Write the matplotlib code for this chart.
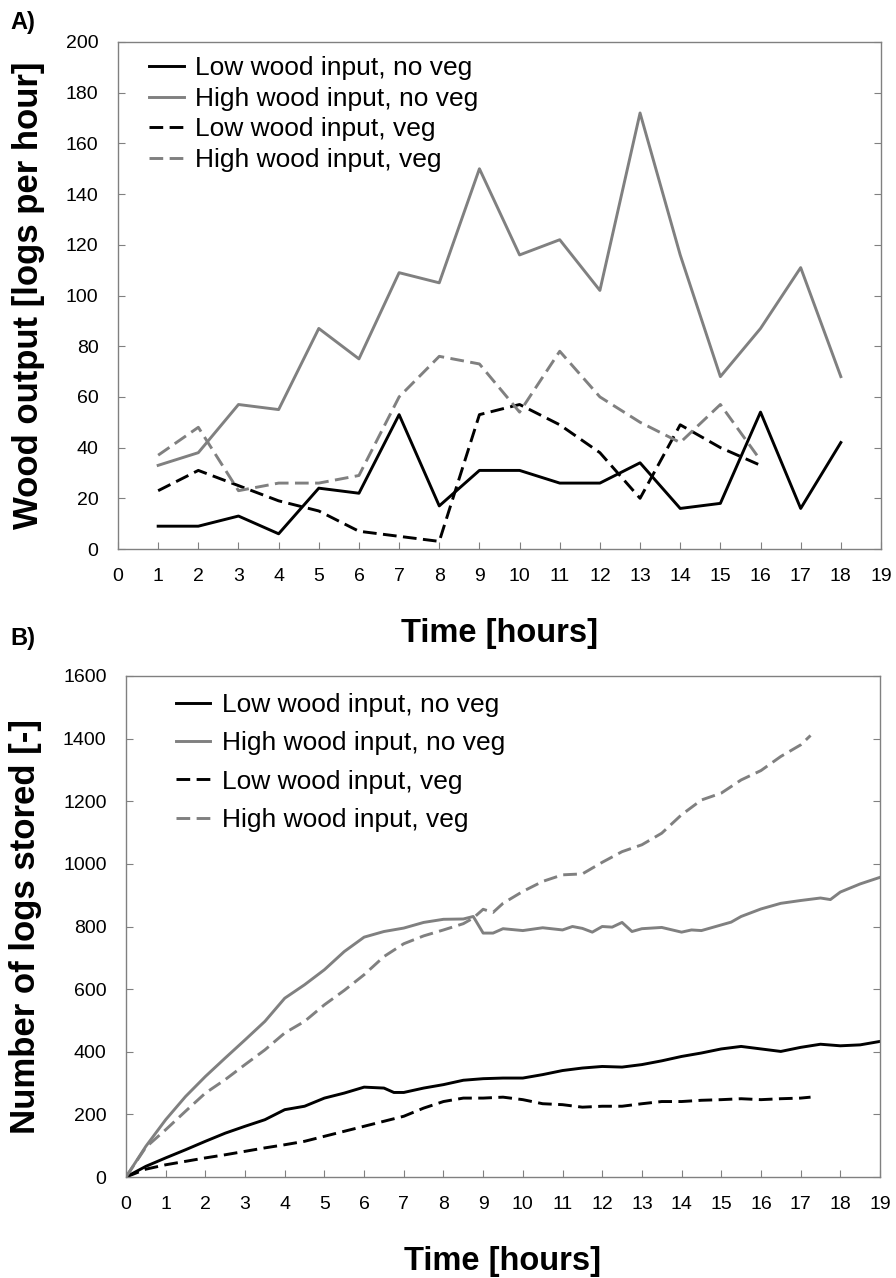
import matplotlib
matplotlib.use("Agg")
import matplotlib.pyplot as plt

plt.rcParams["font.family"] = ["Liberation Sans", "DejaVu Sans"]

# ---- panel A: wood output per hour ----
hours = [1, 2, 3, 4, 5, 6, 7, 8, 9, 10, 11, 12, 13, 14, 15, 16, 17, 18]
out_low_noveg = [9, 9, 13, 6, 24, 22, 53, 17, 31, 31, 26, 26, 34, 16, 18, 54, 16, 42]
out_high_noveg = [33, 38, 57, 55, 87, 75, 109, 105, 150, 116, 122, 102, 172, 116, 68, 87, 111, 68]
hours_veg = [1, 2, 3, 4, 5, 6, 7, 8, 9, 10, 11, 12, 13, 14, 15, 16]
out_low_veg = [23, 31, 25, 19, 15, 7, 5, 3, 53, 57, 49, 38, 20, 49, 40, 33]
out_high_veg = [37, 48, 23, 26, 26, 29, 60, 76, 73, 54, 78, 60, 50, 42, 57, 35]

# ---- panel B: logs stored ----
t_low_noveg = [0, 0.5, 1, 1.5, 2, 2.5, 3, 3.5, 4, 4.5, 5, 5.5, 6, 6.5, 6.75, 7, 7.5, 8,
               8.5, 9, 9.5, 10, 10.5, 11, 11.5, 12, 12.5, 13, 13.5, 14, 14.5, 15, 15.5,
               16, 16.5, 17, 17.5, 18, 18.5, 19]
st_low_noveg = [0, 34, 61, 87, 114, 140, 162, 183, 215, 226, 252, 268, 287, 284, 270, 270,
                284, 295, 309, 314, 316, 316, 327, 340, 348, 353, 351, 359, 371, 385, 396,
                409, 417, 409, 401, 414, 424, 419, 422, 433]
t_high_noveg = [0, 0.5, 1, 1.5, 2, 2.5, 3, 3.5, 4, 4.5, 5, 5.5, 6, 6.5, 7, 7.5, 8, 8.5,
                8.75, 9, 9.25, 9.5, 10, 10.5, 11, 11.25, 11.5, 11.75, 12, 12.25, 12.5,
                12.75, 13, 13.5, 14, 14.25, 14.5, 15, 15.25, 15.5, 16, 16.5, 17, 17.5,
                17.75, 18, 18.5, 19]
st_high_noveg = [0, 98, 183, 257, 321, 380, 438, 497, 571, 614, 662, 720, 766, 784, 795,
                 813, 823, 824, 832, 779, 779, 793, 787, 796, 789, 800, 794, 782, 800, 798,
                 813, 784, 793, 797, 782, 789, 787, 805, 814, 832, 856, 874, 883, 891, 886,
                 910, 936, 957]
t_low_veg = [0, 0.5, 1, 1.5, 2, 2.5, 3, 3.5, 4, 4.5, 5, 5.5, 6, 6.5, 7, 7.5, 8, 8.5, 9,
             9.5, 10, 10.5, 11, 11.5, 12, 12.5, 13, 13.5, 14, 14.5, 15, 15.5, 16, 16.5,
             17, 17.25]
st_low_veg = [0, 25, 39, 50, 61, 71, 82, 93, 103, 114, 130, 146, 162, 178, 194, 220, 241,
              252, 252, 255, 247, 234, 231, 223, 226, 226, 234, 241, 241, 245, 247, 250,
              247, 250, 252, 255]
t_high_veg = [0, 0.5, 1, 1.5, 2, 2.5, 3, 3.5, 4, 4.5, 5, 5.5, 6, 6.5, 7, 7.5, 8, 8.5,
              8.75, 9, 9.25, 9.5, 10, 10.5, 11, 11.5, 12, 12.5, 13, 13.5, 14, 14.5, 15,
              15.5, 16, 16.5, 17, 17.25]
st_high_veg = [0, 95, 151, 210, 268, 311, 359, 406, 460, 497, 550, 596, 646, 704, 745, 770,
               789, 809, 827, 855, 845, 874, 912, 944, 965, 968, 1005, 1039, 1061, 1098,
               1157, 1204, 1226, 1268, 1298, 1343, 1380, 1410]

labels = ["Low wood input, no veg", "High wood input, no veg",
          "Low wood input, veg", "High wood input, veg"]

GREY = "#808080"
DASH = (0, (4.7, 2.2))
LW = 2.1

W, H = 896, 1278
fig = plt.figure(figsize=(W / 100, H / 100), dpi=100)


def px_axes(left, top, right, bottom):
    return fig.add_axes([left / W, 1 - bottom / H, (right - left) / W, (bottom - top) / H])


def style(ax, ymax, ystep, ylabel, anchor, labelspacing):
    ax.set_xlim(0, 19)
    ax.set_ylim(0, ymax)
    ax.set_xticks(range(0, 20))
    ax.set_yticks(range(0, ymax + 1, ystep))
    for sp in ax.spines.values():
        sp.set_color(GREY)
        sp.set_linewidth(1.0)
    ax.tick_params(axis="both", direction="in", length=5, color=GREY,
                   labelsize=14, labelcolor="black")
    ax.tick_params(axis="y", right=True, pad=14)
    ax.tick_params(axis="x", pad=13.5)
    ax.set_xlabel("Time [hours]", fontsize=23.5, fontweight="bold", labelpad=24)
    ax.set_ylabel(ylabel, fontsize=25, fontweight="bold", labelpad=15)
    ax.legend(labels, loc="upper left", bbox_to_anchor=anchor, frameon=False,
              fontsize=19, handlelength=1.3, handletextpad=0.45,
              labelspacing=labelspacing, borderaxespad=0, borderpad=0)


# panel A
ax1 = px_axes(118, 42, 881, 549)
ax1.plot(hours, out_low_noveg, color="black", lw=LW)
ax1.plot(hours, out_high_noveg, color=GREY, lw=LW)
ax1.plot(hours_veg, out_low_veg, color="black", lw=LW, linestyle=DASH)
ax1.plot(hours_veg, out_high_veg, color=GREY, lw=LW, linestyle=DASH)
style(ax1, 200, 20, "Wood output [logs per hour]", (0.041, 0.972), 0.25)
fig.text(10 / W, 1 - 22 / H, "A)", fontsize=17, fontweight="bold", va="center")

# panel B
ax2 = px_axes(126, 676, 880, 1177)
ax2.plot(t_low_noveg, st_low_noveg, color="black", lw=LW)
ax2.plot(t_high_noveg, st_high_noveg, color=GREY, lw=LW)
ax2.plot(t_low_veg, st_low_veg, color="black", lw=LW, linestyle=DASH)
ax2.plot(t_high_veg, st_high_veg, color=GREY, lw=LW, linestyle=DASH)
style(ax2, 1600, 200, "Number of logs stored [-]", (0.066, 0.966), 0.54)
fig.text(10 / W, 1 - 639 / H, "B)", fontsize=17, fontweight="bold", va="center")

fig.savefig("out.png", dpi=100)
